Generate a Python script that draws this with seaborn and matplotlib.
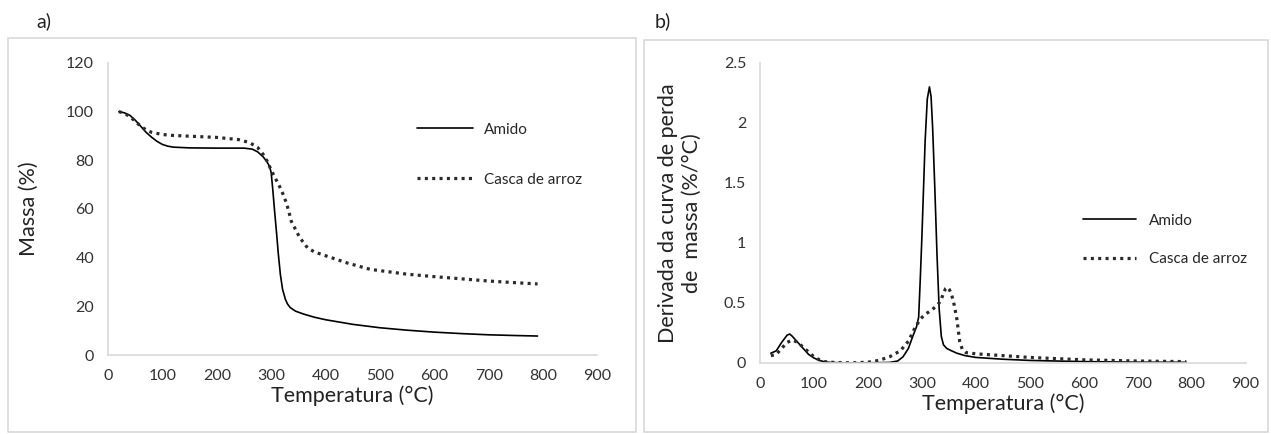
import numpy as np
import pandas as pd
import matplotlib
matplotlib.use("Agg")
import matplotlib.pyplot as plt
import seaborn as sns
from matplotlib.patches import Rectangle

# ---- data ----
tga_amido_t = [20, 30, 40, 50, 60, 70, 80, 90, 100, 110, 120, 150, 200, 250, 265, 275, 285, 292, 297, 300, 303, 306, 310, 313, 317, 321, 326, 330, 335, 345, 360, 380, 400, 450, 500, 550, 600, 650, 700, 750, 790]
tga_amido_m = [100, 99.5, 98.5, 96.5, 94, 91.5, 89.5, 87.8, 86.5, 85.8, 85.4, 85.1, 85.0, 85.0, 84.6, 83.5, 81.5, 79.5, 77.5, 75, 68, 60, 50, 42, 33, 27, 23, 21, 19.5, 18, 16.8, 15.5, 14.5, 12.6, 11.2, 10.2, 9.4, 8.8, 8.3, 8.0, 7.8]
tga_casca_t = [20, 30, 40, 50, 60, 70, 80, 100, 120, 150, 200, 240, 260, 275, 285, 293, 300, 308, 316, 322, 328, 333, 337, 345, 352, 360, 367, 380, 400, 440, 482, 550, 600, 650, 700, 750, 790]
tga_casca_m = [100, 99.3, 98, 96, 94, 92.5, 91.5, 90.6, 90.2, 89.9, 89.4, 88.5, 87.3, 85.3, 82.5, 79.5, 76, 72.5, 69, 66, 62.5, 58.5, 55, 51.5, 48.5, 46, 44, 42.3, 40.8, 37.8, 35.2, 33.2, 32.2, 31.3, 30.4, 29.7, 29.2]

dtg_amido_t = [20, 30, 40, 50, 55, 60, 70, 80, 90, 100, 110, 120, 130, 150, 200, 240, 255, 265, 275, 283, 290, 294, 297, 300, 303, 306, 310, 314, 317, 320, 324, 328, 332, 336, 340, 346, 355, 365, 380, 400, 450, 500, 600, 700, 790]
dtg_amido_v = [0.08, 0.1, 0.17, 0.23, 0.24, 0.22, 0.17, 0.12, 0.07, 0.04, 0.02, 0.008, 0.003, 0.0, 0.0, 0.003, 0.015, 0.05, 0.12, 0.22, 0.3, 0.38, 0.7, 1.05, 1.45, 1.85, 2.2, 2.3, 2.22, 1.95, 1.45, 0.9, 0.45, 0.22, 0.15, 0.12, 0.1, 0.08, 0.06, 0.045, 0.03, 0.02, 0.01, 0.005, 0.004]
dtg_casca_t = [20, 30, 40, 50, 60, 70, 80, 90, 100, 110, 120, 140, 170, 200, 220, 240, 260, 275, 288, 298, 308, 318, 326, 332, 336, 340, 344, 347, 351, 355, 360, 365, 370, 375, 382, 400, 450, 500, 600, 700, 790]
dtg_casca_v = [0.06, 0.07, 0.12, 0.17, 0.19, 0.17, 0.13, 0.09, 0.05, 0.025, 0.01, 0.002, 0.0, 0.005, 0.02, 0.05, 0.1, 0.18, 0.3, 0.37, 0.41, 0.44, 0.47, 0.5, 0.53, 0.58, 0.62, 0.63, 0.61, 0.57, 0.48, 0.36, 0.18, 0.11, 0.085, 0.075, 0.06, 0.045, 0.025, 0.015, 0.01]

series_names = ["Amido", "Casca de arroz"]
xticks = [0, 100, 200, 300, 400, 500, 600, 700, 800, 900]
yticks_a = [0, 20, 40, 60, 80, 100, 120]
yticks_b = [0, 0.5, 1, 1.5, 2, 2.5]
yticklabels_b = ["0", "0.5", "1", "1.5", "2", "2.5"]

sns.set_style("white")
plt.rcParams['font.family'] = ['Lato', 'DejaVu Sans']

fig = plt.figure(figsize=(12.71, 4.34), dpi=100)

# panel frames
for (x0, y0, w, h) in [(0.006, 0.005, 0.494, 0.907), (0.507, 0.005, 0.491, 0.903)]:
    fig.patches.append(Rectangle((x0, y0), w, h, transform=fig.transFigure,
                                 fill=False, edgecolor="#d9d9d9", linewidth=1.2))
fig.text(0.029, 0.952, "a)", fontsize=14, ha="left", va="center", color="#222222")
fig.text(0.515, 0.952, "b)", fontsize=14, ha="left", va="center", color="#222222")

axa = fig.add_axes([0.085, 0.182, 0.385, 0.673])
axb = fig.add_axes([0.598, 0.164, 0.382, 0.691])

df_a = pd.concat([
    pd.DataFrame({"T": tga_amido_t, "v": tga_amido_m, "s": series_names[0]}),
    pd.DataFrame({"T": tga_casca_t, "v": tga_casca_m, "s": series_names[1]}),
])
df_b = pd.concat([
    pd.DataFrame({"T": dtg_amido_t, "v": dtg_amido_v, "s": series_names[0]}),
    pd.DataFrame({"T": dtg_casca_t, "v": dtg_casca_v, "s": series_names[1]}),
])

def draw(ax, df):
    d1 = df[df.s == series_names[0]]
    d2 = df[df.s == series_names[1]]
    sns.lineplot(data=d1, x="T", y="v", ax=ax, color="black", linewidth=1.2,
                 label=series_names[0], sort=False)
    sns.lineplot(data=d2, x="T", y="v", ax=ax, color="#2a2a2a", linewidth=2.3,
                 linestyle=(0, (0.95, 1.35)), label=series_names[1], sort=False)
    for sp in ["top", "right"]:
        ax.spines[sp].set_visible(False)
    for sp in ["left", "bottom"]:
        ax.spines[sp].set_color("#d9d9d9")
        ax.spines[sp].set_linewidth(1.2)
    ax.set_xlim(0, 900)
    ax.set_xticks(xticks)
    ax.tick_params(axis="both", length=0, labelsize=11.5, colors="#333333", pad=10)
    ax.set_xlabel("Temperatura (°C)", fontsize=15.5, color="#222222", labelpad=2)

draw(axa, df_a)
axa.set_ylim(0, 120)
axa.set_yticks(yticks_a)
axa.set_ylabel("Massa (%)", fontsize=15.5, color="#222222", labelpad=20)
axa.legend(loc="upper left", bbox_to_anchor=(0.322, 0.735), bbox_transform=fig.transFigure,
           frameon=False, fontsize=11, handlelength=3.7, handletextpad=0.7,
           labelspacing=2.35, borderpad=0)

draw(axb, df_b)
axb.set_ylim(0, 2.5)
axb.set_yticks(yticks_b)
axb.set_yticklabels(yticklabels_b)
axb.set_ylabel("Derivada da curva de perda\nde  massa (%/°C)", fontsize=15.5,
               color="#222222", labelpad=16, linespacing=1.2)
axb.legend(loc="upper left", bbox_to_anchor=(0.846, 0.525), bbox_transform=fig.transFigure,
           frameon=False, fontsize=11, handlelength=3.5, handletextpad=0.8,
           labelspacing=1.6, borderpad=0)

fig.savefig("out.png", dpi=100)
